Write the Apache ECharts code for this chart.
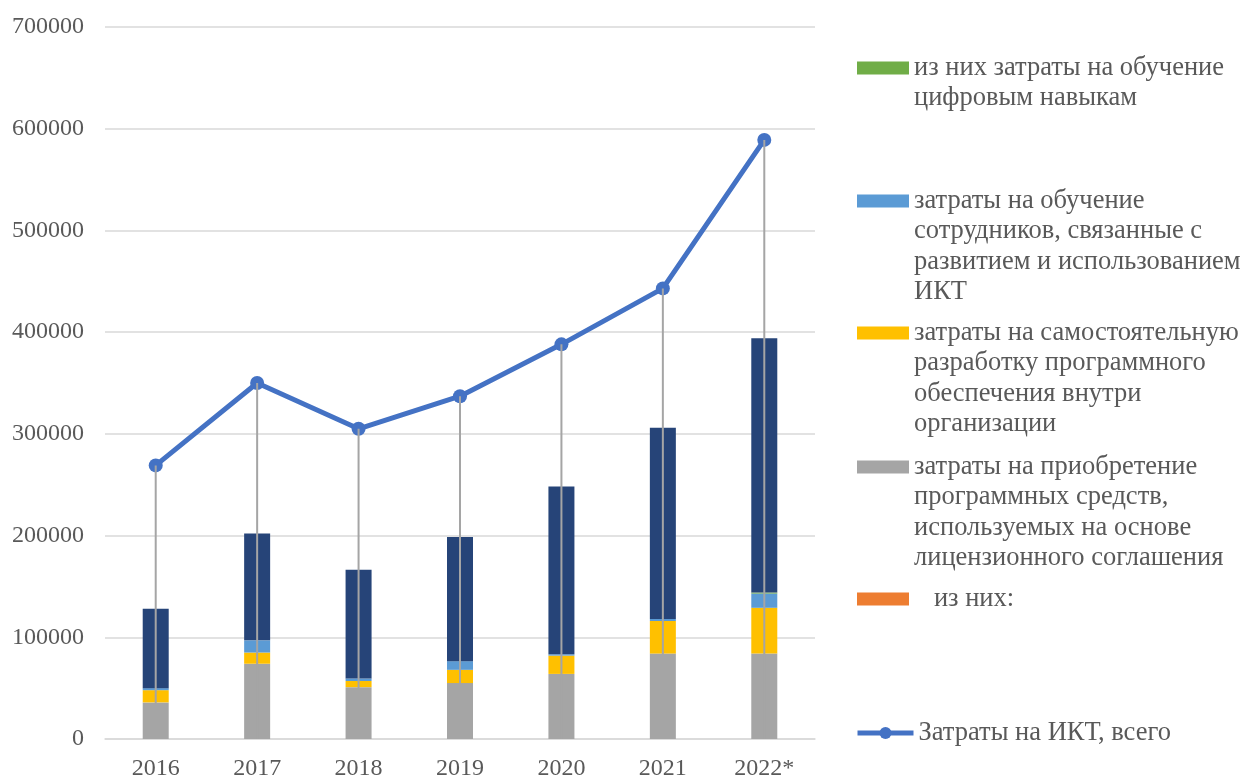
<!DOCTYPE html>
<html>
<head>
<meta charset="utf-8">
<script src="https://cdn.jsdelivr.net/npm/echarts@6/dist/echarts.min.js"></script>
<style>
  html, body { margin: 0; padding: 0; background: #ffffff; overflow: hidden; }
  #chart { width: 1244px; height: 781px; }
</style>
</head>
<body>
<div id="chart"></div>
<script>
// Годы наблюдения
const years = ['2016', '2017', '2018', '2019', '2020', '2021', '2022*'];

// Слагаемые столбцов (снизу вверх)
const licensedSoftware = [36000, 74000, 51000, 55000, 64000, 84000, 84000];
const ofWhich          = [0, 0, 0, 0, 0, 0, 0];
const inHouseSoftware  = [12000, 11000, 6000, 13000, 18000, 32000, 45000];
const ictTraining      = [2000, 12000, 2500, 8500, 1300, 2000, 14000];
const digitalSkills    = [0, 0, 0, 0, 0, 0, 1000];
const otherIct         = [78000, 105000, 107000, 122000, 165000, 188000, 250000];

// Затраты на ИКТ, всего (линия)
const totalIct = [269000, 350000, 305000, 337000, 388000, 443000, 589000];

// Подписи оси значений
const yTicks = [0, 100000, 200000, 300000, 400000, 500000, 600000, 700000];

const names = {
  green: 'из них затраты на обучение\nцифровым навыкам',
  blue: 'затраты на обучение\nсотрудников, связанные с\nразвитием и использованием\nИКТ',
  yellow: 'затраты на самостоятельную\nразработку программного\nобеспечения внутри\nорганизации',
  gray: 'затраты на приобретение\nпрограммных средств,\nиспользуемых на основе\nлицензионного соглашения',
  orange: '   из них:',
  line: 'Затраты на ИКТ, всего',
  navy: 'прочие затраты на ИКТ'
};

const FONT = "'Liberation Serif', 'Times New Roman', serif";
const TEXT = '#595959';
const AXIS_FS = 24;
const LEG_FS = 26.5;
const LH = 30.5;

// Одна легенда на элемент: значок стоит против первой строки подписи
// (над подписью добавляются пустые строки, чтобы первая строка оказалась по центру блока)
function legendItem(name, iconCenterY, left, opts) {
  const lines = name.split('\n').length;
  return Object.assign({
    orient: 'vertical',
    left: left,
    top: iconCenterY - (2 * lines - 1) * LH / 2,
    padding: 0,
    itemWidth: 52,
    itemHeight: 13,
    icon: 'rect',
    selectedMode: false,
    data: [name],
    formatter: function (n) {
      return '\n'.repeat(lines - 1) + n;
    },
    textStyle: {
      fontFamily: FONT,
      fontSize: LEG_FS,
      lineHeight: LH,
      color: TEXT
    }
  }, opts || {});
}

const barBase = { type: 'bar', stack: 'ict', barWidth: 26, z: 2 };

const option = {
  animation: false,
  backgroundColor: '#ffffff',
  grid: { left: 105, right: 429, top: 27, bottom: 36, containLabel: false },
  legend: [
    legendItem(names.green, 68, 857),
    legendItem(names.blue, 201, 857),
    legendItem(names.yellow, 333, 857),
    legendItem(names.gray, 467, 857),
    legendItem(names.orange, 599, 857),
    legendItem(names.line, 733, 855, {
      icon: null, itemWidth: 56, itemHeight: 15,
      lineStyle: { width: 5 }
    })
  ],
  xAxis: {
    type: 'category',
    data: years,
    axisLine: { lineStyle: { color: '#d9d9d9', width: 1.5 } },
    axisTick: { show: false },
    axisLabel: { fontFamily: FONT, fontSize: AXIS_FS, color: TEXT, margin: 18 }
  },
  yAxis: {
    type: 'value',
    min: yTicks[0],
    max: yTicks[yTicks.length - 1],
    interval: yTicks[1] - yTicks[0],
    axisLine: { show: false },
    axisTick: { show: false },
    splitLine: { lineStyle: { color: '#d9d9d9', width: 1.5 } },
    axisLabel: {
      fontFamily: FONT, fontSize: AXIS_FS, color: TEXT, margin: 21,
      formatter: function (v) { return String(v); }
    }
  },
  series: [
    Object.assign({ name: names.gray, data: licensedSoftware, itemStyle: { color: '#a5a5a5' } }, barBase),
    Object.assign({ name: names.orange, data: ofWhich, itemStyle: { color: '#ed7d31' } }, barBase),
    Object.assign({ name: names.yellow, data: inHouseSoftware, itemStyle: { color: '#ffc000' } }, barBase),
    Object.assign({ name: names.blue, data: ictTraining, itemStyle: { color: '#5b9bd5' } }, barBase),
    Object.assign({ name: names.green, data: digitalSkills, itemStyle: { color: '#70ad47' } }, barBase),
    Object.assign({ name: names.navy, data: otherIct, itemStyle: { color: '#264478' } }, barBase),
    {
      name: names.line,
      type: 'line',
      data: totalIct,
      z: 3,
      symbol: 'circle',
      symbolSize: 14,
      lineStyle: { color: '#4472c4', width: 5 },
      itemStyle: { color: '#4472c4' }
    },
    {
      // Вертикальные линии от точек линии до оси
      name: 'dropLines',
      type: 'custom',
      z: 5,
      silent: true,
      data: totalIct.map((v, i) => [i, v]),
      encode: { x: 0, y: 1 },
      renderItem: function (params, api) {
        const top = api.coord([api.value(0), api.value(1)]);
        const bottom = api.coord([api.value(0), 0]);
        return {
          type: 'line',
          shape: { x1: top[0], y1: top[1], x2: bottom[0], y2: bottom[1] },
          style: { stroke: '#a5a5a5', lineWidth: 2 }
        };
      }
    }
  ]
};

const chart = echarts.init(document.getElementById('chart'), null, { renderer: 'canvas' });
chart.setOption(option);
</script>
</body>
</html>
